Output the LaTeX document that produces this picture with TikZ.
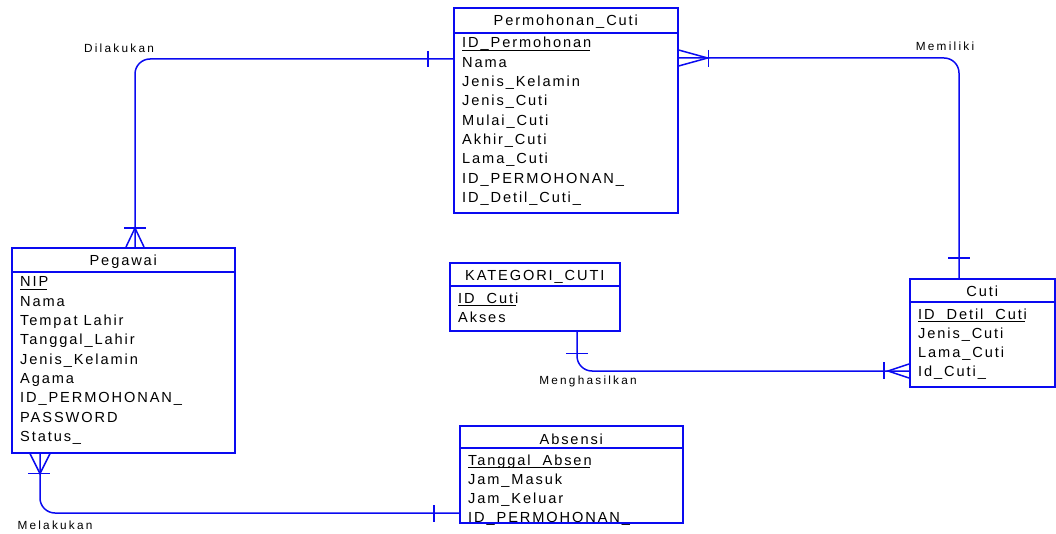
\documentclass[tikz,border=0pt]{standalone}
\usepackage{fontspec}
\setmainfont{Liberation Sans}
\newfontfamily\attrfont[LetterSpace=13]{Liberation Sans}
\newfontfamily\relfont[LetterSpace=19]{Liberation Sans}
\usetikzlibrary{calc}
\definecolor{erblue}{RGB}{10,10,240}

\begin{document}
\begin{tikzpicture}[x=1pt,y=-1pt,
  entity/.style={draw=erblue, line width=1.6pt, rectangle, anchor=north west, inner sep=0pt},
  divider/.style={draw=erblue, line width=1.4pt},
  rel/.style={draw=erblue, line width=1.5pt, rounded corners=15pt},
  crow/.style={draw=erblue, line width=1.5pt},
  keyline/.style={draw=black, line width=0.9pt},
  etitle/.style={font=\attrfont\fontsize{14.6}{16}\selectfont, inner sep=0pt, anchor=base},
  attr/.style={font=\attrfont\fontsize{14.6}{16}\selectfont, inner sep=0pt, anchor=base west},
  rlabel/.style={font=\relfont\fontsize{11.8}{13}\selectfont, inner sep=0pt, anchor=center}
]
\useasboundingbox (0,0) rectangle (1056,534);

% ---------- entities ----------
\node[entity, minimum width=224, minimum height=205] (pc) at (453,7) {};
\node[entity, minimum width=223, minimum height=205] (pg) at (11,247) {};
\node[entity, minimum width=170, minimum height=68]  (kc) at (449,262) {};
\node[entity, minimum width=145, minimum height=108] (cu) at (909,278) {};
\node[entity, minimum width=223, minimum height=97]  (ab) at (459,425) {};

% header dividers
\draw[divider] ($(pc.north west)+(0,26)$) -- ($(pc.north east)+(0,26)$);
\draw[divider] ($(pg.north west)+(0,25)$) -- ($(pg.north east)+(0,25)$);
\draw[divider] ($(kc.north west)+(0,24)$) -- ($(kc.north east)+(0,24)$);
\draw[divider] ($(cu.north west)+(0,24)$) -- ($(cu.north east)+(0,24)$);
\draw[divider] ($(ab.north west)+(0,23)$) -- ($(ab.north east)+(0,23)$);

% titles
\node[etitle] (pc-t) at ($(pc.north)+(0,18.5)$) {Permohonan\_Cuti};
\node[etitle] (pg-t) at ($(pg.north)+(0,18.5)$) {Pegawai};
\node[etitle] (kc-t) at ($(kc.north)+(0,18.5)$) {KATEGORI\_CUTI};
\node[etitle] (cu-t) at ($(cu.north)+(0,19)$) {Cuti};
\node[etitle] (ab-t) at ($(ab.north)+(0,19)$) {Absensi};

% attributes
\foreach \t [count=\i] in {ID\_Permohonan, Nama, Jenis\_Kelamin, Jenis\_Cuti, Mulai\_Cuti, Akhir\_Cuti, Lama\_Cuti, ID\_PERMOHONAN\_, ID\_Detil\_Cuti\_}
  \node[attr] (pc-\i) at ($(pc.north west)+(9,{41+19.3*(\i-1)})$) {\t};
\foreach \t [count=\i] in {NIP, Nama, Tempat Lahir, Tanggal\_Lahir, Jenis\_Kelamin, Agama, ID\_PERMOHONAN\_, PASSWORD, Status\_}
  \node[attr] (pg-\i) at ($(pg.north west)+(9,{40+19.3*(\i-1)})$) {\t};
\foreach \t [count=\i] in {ID\_Cuti, Akses}
  \node[attr] (kc-\i) at ($(kc.north west)+(9,{41+19.3*(\i-1)})$) {\t};
\foreach \t [count=\i] in {ID\_Detil\_Cuti, Jenis\_Cuti, Lama\_Cuti, Id\_Cuti\_}
  \node[attr] (cu-\i) at ($(cu.north west)+(9,{41+19.3*(\i-1)})$) {\t};
\foreach \t [count=\i] in {Tanggal\_Absen, Jam\_Masuk, Jam\_Keluar, ID\_PERMOHONAN\_}
  \node[attr] (ab-\i) at ($(ab.north west)+(9,{40+19.3*(\i-1)})$) {\t};

% primary keys underlined
\foreach \k in {pc-1, pg-1, kc-1, cu-1, ab-1}
  \draw[keyline] ($(\k.base west)+(0,2.2)$) -- ($(\k.base east)+(-2,2.2)$);

% ---------- relationships ----------
% Dilakukan: Permohonan_Cuti (one) -- Pegawai (many)
\draw[rel] ($(pc.north west)+(0,52)$) -| ($(pg.north west)+(124,0)$);
\draw[crow] ($(pc.north west)+(-25,44)$) -- ($(pc.north west)+(-25,60)$);
\draw[crow] ($(pg.north west)+(115,0)$) -- ($(pg.north west)+(124,-19)$) -- ($(pg.north west)+(133,0)$);
\draw[crow] ($(pg.north west)+(113,-19)$) -- ($(pg.north west)+(135,-19)$);
\node[rlabel] (l-dil) at (119,48) {Dilakukan};

% Memiliki: Permohonan_Cuti (many) -- Cuti (one)
\draw[rel] ($(pc.north east)+(0,51)$) -| ($(cu.north west)+(50,0)$);
\draw[crow] ($(pc.north east)+(0,43)$) -- ($(pc.north east)+(29,51)$) -- ($(pc.north east)+(0,59)$);
\draw[crow] ($(pc.north east)+(30,43)$) -- ($(pc.north east)+(30,60)$);
\draw[crow] ($(cu.north west)+(39,-20)$) -- ($(cu.north west)+(61,-20)$);
\node[rlabel] (l-mem) at (945,46) {Memiliki};

% Menghasilkan: KATEGORI_CUTI (one) -- Cuti (many)
\draw[rel] ($(kc.south west)+(128,0)$) |- ($(cu.north west)+(0,93)$);
\draw[crow] ($(kc.south west)+(117,22)$) -- ($(kc.south west)+(139,22)$);
\draw[crow] ($(cu.north west)+(0,86)$) -- ($(cu.north west)+(-21,93)$) -- ($(cu.north west)+(0,100)$);
\draw[crow] ($(cu.north west)+(-25,84)$) -- ($(cu.north west)+(-25,101)$);
\node[rlabel] (l-men) at (588,381) {Menghasilkan};

% Melakukan: Pegawai (many) -- Absensi (one)
\draw[rel] ($(pg.south west)+(29,0)$) |- ($(ab.north west)+(0,88)$);
\draw[crow] ($(pg.south west)+(19,0)$) -- ($(pg.south west)+(29,20)$) -- ($(pg.south west)+(39,0)$);
\draw[crow] ($(pg.south west)+(17,20)$) -- ($(pg.south west)+(39,20)$);
\draw[crow] ($(ab.north west)+(-25,80)$) -- ($(ab.north west)+(-25,97)$);
\node[rlabel] (l-mel) at (55,525) {Melakukan};

\end{tikzpicture}
\end{document}
